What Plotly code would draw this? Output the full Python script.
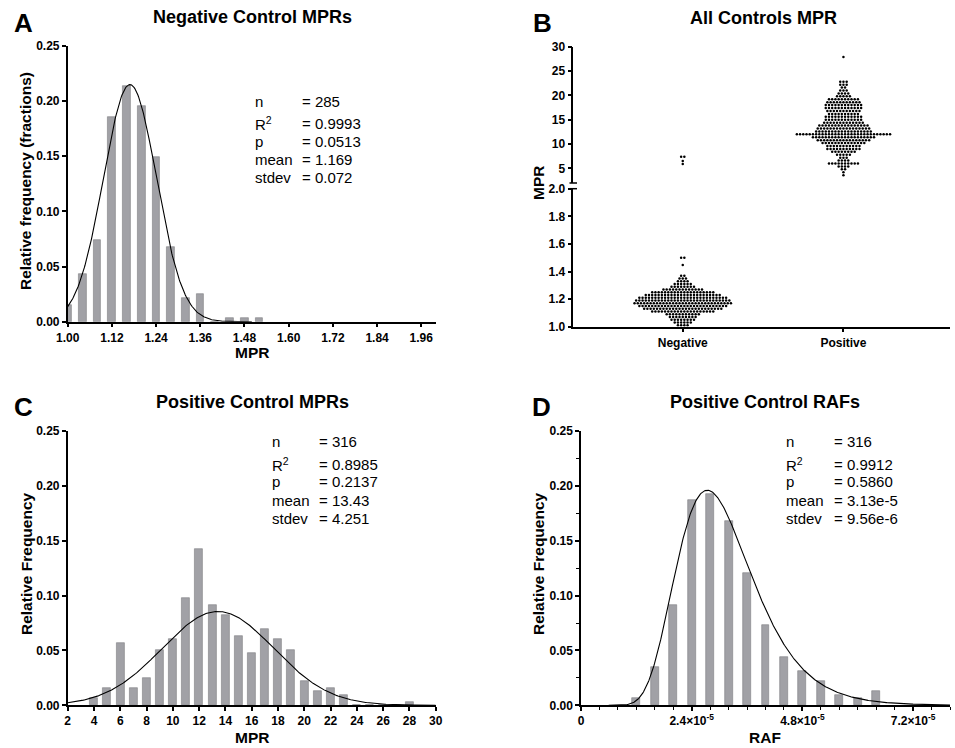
import numpy as np
import plotly.graph_objects as go

W, H = 955, 748
FONT = "Arial, Liberation Sans, sans-serif"

# ---------------- data ----------------
# Panel A: negative control MPR histogram (bin centres, relative frequency)
neg_bins = [1.00, 1.04, 1.08, 1.12, 1.16, 1.20, 1.24, 1.28, 1.32, 1.36, 1.40, 1.44, 1.48, 1.52]
neg_freq = [0.0151, 0.0432, 0.0745, 0.1856, 0.2137, 0.1956, 0.1496, 0.0680, 0.0218, 0.0254, 0.0, 0.0035, 0.0035, 0.0035]
neg_fit = dict(mean=1.169, sd=0.072, peak=0.215)
neg_stats = ["= 285", "= 0.9993", "= 0.0513", "= 1.169", "= 0.072"]

# Panel C: positive control MPR histogram
pos_bins = [4, 5, 6, 7, 8, 9, 10, 11, 12, 13, 14, 15, 16, 17, 18, 19, 20, 21, 22, 23, 24, 25, 26, 27, 28]
pos_freq = [0.0063, 0.0158, 0.0570, 0.0158, 0.0253, 0.0506, 0.0601, 0.0981, 0.1424, 0.0918, 0.0823,
            0.0633, 0.0475, 0.0696, 0.0601, 0.0506, 0.0222, 0.0127, 0.0158, 0.0095, 0.0, 0.0, 0.0, 0.0, 0.0032]
pos_fit = dict(mean=13.43, sd=4.251, peak=0.0855)
pos_stats = ["= 316", "= 0.8985", "= 0.2137", "= 13.43", "= 4.251"]

# Panel D: positive control RAF histogram
raf_bins = [1.2e-5, 1.6e-5, 2.0e-5, 2.4e-5, 2.8e-5, 3.2e-5, 3.6e-5, 4.0e-5, 4.4e-5, 4.8e-5, 5.2e-5, 5.6e-5, 6.0e-5, 6.4e-5]
raf_freq = [0.0063, 0.0348, 0.0918, 0.1867, 0.1930, 0.1677, 0.1203, 0.0728, 0.0443, 0.0316, 0.0222, 0.0095, 0.0063, 0.0127]
raf_fit = dict(mean=3.13e-5, sd=9.56e-6, peak=0.196)
raf_stats = ["= 316", "= 0.9912", "= 0.5860", "= 3.13e-5", "= 9.56e-6"]

stat_labels = ["n", "R<sup>2</sup>", "p", "mean", "stdev"]

# Panel B: swarm rows (MPR value of the row, number of points in that row)
neg_rows_mpr = [1.01, 1.03, 1.05, 1.07, 1.09, 1.11, 1.13, 1.15, 1.17, 1.19, 1.21, 1.23, 1.25, 1.27,
                1.29, 1.31, 1.33, 1.35, 1.37, 1.447, 1.50, 5.9, 6.5, 7.4]
neg_rows_n = [4, 6, 8, 9, 11, 20, 25, 28, 31, 30, 28, 24, 20, 13, 8, 6, 4, 3, 2, 1, 2, 1, 1, 2]
pos_rows_mpr = [3.6, 4.2, 4.8, 5.4, 6.0, 6.6, 7.2, 7.8, 8.4, 9.0, 9.6, 10.2, 10.8, 11.4, 12.0, 12.6,
                13.2, 13.8, 14.4, 15.0, 15.6, 16.2, 16.8, 17.4, 18.0, 18.6, 19.2, 19.8, 20.4, 21.0,
                21.6, 22.2, 22.8, 27.9]
pos_rows_n = [1, 1, 2, 4, 10, 4, 3, 5, 8, 11, 11, 14, 17, 20, 30, 18,
              17, 16, 13, 12, 12, 10, 11, 12, 12, 11, 10, 5, 4, 3,
              2, 3, 3, 1]
groups = ["Negative", "Positive"]

# ---------------- helpers ----------------
def fx(p):
    return p / W

def fy(p):
    return 1 - p / H

def dom_x(a, b):
    return [fx(a), fx(b)]

def dom_y(top, bottom):
    return [fy(bottom), fy(top)]

BAR_COLOR = "#a1a1a6"
BAR_LINE = "#7d7d82"

fig = go.Figure()

# Panel A
fig.add_trace(go.Bar(x=neg_bins, y=neg_freq, width=0.021, marker=dict(color=BAR_COLOR, line=dict(color=BAR_LINE, width=0.6)),
                     xaxis="x", yaxis="y", showlegend=False))
xa = np.linspace(1.0, 1.5, 300)
ya = neg_fit["peak"] * np.exp(-0.5 * ((xa - neg_fit["mean"]) / neg_fit["sd"]) ** 2)
fig.add_trace(go.Scatter(x=xa, y=ya, mode="lines", line=dict(color="black", width=1.1), xaxis="x", yaxis="y", showlegend=False))

# Panel C
fig.add_trace(go.Bar(x=pos_bins, y=pos_freq, width=0.6, marker=dict(color=BAR_COLOR, line=dict(color=BAR_LINE, width=0.6)),
                     xaxis="x3", yaxis="y4", showlegend=False))
xc = np.linspace(2, 30, 400)
yc = pos_fit["peak"] * np.exp(-0.5 * ((xc - pos_fit["mean"]) / pos_fit["sd"]) ** 2)
fig.add_trace(go.Scatter(x=xc, y=yc, mode="lines", line=dict(color="black", width=1.1), xaxis="x3", yaxis="y4", showlegend=False))

# Panel D (log-normal fit)
fig.add_trace(go.Bar(x=raf_bins, y=raf_freq, width=0.17e-5, marker=dict(color=BAR_COLOR, line=dict(color=BAR_LINE, width=0.6)),
                     xaxis="x4", yaxis="y5", showlegend=False))
s2 = np.log(1 + (raf_fit["sd"] / raf_fit["mean"]) ** 2)
mu = np.log(raf_fit["mean"]) - s2 / 2
xd = np.linspace(0.6e-5, 8e-5, 500)
pdf = np.exp(-(np.log(xd) - mu) ** 2 / (2 * s2)) / xd
yd = raf_fit["peak"] * pdf / pdf.max()
fig.add_trace(go.Scatter(x=xd, y=yd, mode="lines", line=dict(color="black", width=1.1), xaxis="x4", yaxis="y5", showlegend=False))

# Panel B swarm
DX = 0.02
def swarm(center, rows, counts):
    xs, ys = [], []
    for v, n in zip(rows, counts):
        for i in range(n):
            xs.append(center + (i - (n - 1) / 2) * DX)
            ys.append(v)
    return np.array(xs), np.array(ys)

for gi, (rows, counts) in enumerate([(neg_rows_mpr, neg_rows_n), (pos_rows_mpr, pos_rows_n)]):
    xs, ys = swarm(gi, rows, counts)
    low = ys <= 2
    if low.any():
        fig.add_trace(go.Scatter(x=xs[low], y=ys[low], mode="markers", marker=dict(color="black", size=2.5),
                                 xaxis="x2", yaxis="y2", showlegend=False))
    if (~low).any():
        fig.add_trace(go.Scatter(x=xs[~low], y=ys[~low], mode="markers", marker=dict(color="black", size=2.5),
                                 xaxis="x2", yaxis="y3", showlegend=False))

# ---------------- axes ----------------
tickfont = dict(family=FONT, size=12, color="black", weight="bold")
base = dict(showline=True, linecolor="black", linewidth=1.5, ticks="outside", ticklen=4, tickwidth=1.5,
            tickcolor="black", showgrid=False, zeroline=False, tickfont=tickfont, fixedrange=True,
            automargin=False)

freq_ticks = [0, 0.05, 0.10, 0.15, 0.20, 0.25]
fig.update_layout(
    xaxis=dict(base, domain=dom_x(67.7, 436), range=[1.0, 2.0], anchor="y",
               tickvals=[1.00 + 0.12 * i for i in range(9)], tickformat=".2f"),
    yaxis=dict(base, domain=dom_y(46, 321.7), range=[0, 0.25], anchor="x", tickvals=freq_ticks, tickformat=".2f"),
    xaxis2=dict(base, domain=dom_x(573.3, 950), range=[-0.681, 1.663], anchor="y2",
                tickvals=[0, 1], ticktext=groups),
    yaxis2=dict(base, domain=dom_y(188.7, 326.7), range=[1.0, 2.0], anchor="x2",
                tickvals=[1.0, 1.2, 1.4, 1.6, 1.8, 2.0], tickformat=".1f"),
    yaxis3=dict(base, domain=dom_y(46.7, 183), range=[2, 30], anchor="x2",
                tickvals=[5, 10, 15, 20, 25, 30]),
    xaxis3=dict(base, domain=dom_x(67.7, 435.7), range=[2, 30], anchor="y4",
                tickvals=list(range(2, 31, 2))),
    yaxis4=dict(base, domain=dom_y(431, 705.3), range=[0, 0.25], anchor="x3", tickvals=freq_ticks, tickformat=".2f"),
    xaxis4=dict(base, domain=dom_x(581, 950), range=[0, 8e-5], anchor="y5",
                tickvals=[0, 2.4e-5, 4.8e-5, 7.2e-5],
                ticktext=["0", "2.4×10<sup>-5</sup>", "4.8×10<sup>-5</sup>", "7.2×10<sup>-5</sup>"],
                minor=dict(dtick=0.4e-5, tick0=0, ticklen=3, tickwidth=1, tickcolor="black", ticks="outside")),
    yaxis5=dict(base, domain=dom_y(431, 705.3), range=[0, 0.25], anchor="x4", tickvals=freq_ticks, tickformat=".2f",
                minor=dict(dtick=0.025, tick0=0, ticklen=3, tickwidth=1, tickcolor="black", ticks="outside")),
)

# ---------------- text ----------------
ann = []
def text(x, y, s, size, bold=False, angle=0, xanchor="center", yanchor="middle"):
    f = dict(family=FONT, size=size, color="black")
    if bold:
        f["weight"] = "bold"
    ann.append(dict(x=fx(x), y=fy(y), xref="paper", yref="paper", text=s, showarrow=False,
                    font=f, textangle=angle, xanchor=xanchor, yanchor=yanchor))

# panel letters
for letter, (x, y) in zip("ABCD", [(23, 23), (542, 23), (23, 407), (541, 407)]):
    text(x, y, letter, 26, bold=True)

# titles
text(252, 17, "Negative Control MPRs", 18, bold=True)
text(763, 18, "All Controls MPR", 18, bold=True)
text(252, 402, "Positive Control MPRs", 18, bold=True)
text(765, 402, "Positive Control RAFs", 18, bold=True)

# axis titles
text(26, 181, "Relative frequency (fractions)", 15.5, bold=True, angle=-90)
text(252, 352, "MPR", 15.5, bold=True)
text(539, 183, "MPR", 15.5, bold=True, angle=-90)
text(26, 564, "Relative Frequency", 15.5, bold=True, angle=-90)
text(252, 737, "MPR", 15.5, bold=True)
text(538, 564, "Relative Frequency", 15.5, bold=True, angle=-90)
text(765, 737, "RAF", 15.5, bold=True)

# statistics blocks
def stats(xl, xv, baselines, values):
    for lab, val, b in zip(stat_labels, values, baselines):
        text(xl, b - 5, lab, 15, xanchor="left")
        text(xv, b - 5, val, 15, xanchor="left")

stats(253, 300, [106.7, 128.3, 146.7, 165, 182.7], neg_stats)
stats(270, 317, [446.7, 469.3, 486.7, 505, 523.3], pos_stats)
stats(784, 831.5, [446.7, 469.3, 486.7, 505, 523.3], raf_stats)

# axis break marks on panel B
shapes = []
for yb in (183, 188.7):
    shapes.append(dict(type="line", xref="paper", yref="paper", x0=fx(569.5), x1=fx(577), y0=fy(yb), y1=fy(yb),
                       line=dict(color="black", width=1.5)))

fig.update_layout(width=W, height=H, autosize=False,
                  margin=dict(l=0, r=0, t=0, b=0, pad=0, autoexpand=False),
                  paper_bgcolor="white", plot_bgcolor="white", annotations=ann, shapes=shapes,
                  bargap=0, showlegend=False)

fig.write_html("out.html", config={"displayModeBar": False},
               post_script="document.body.style.margin='0px';document.body.style.overflow='hidden';")
